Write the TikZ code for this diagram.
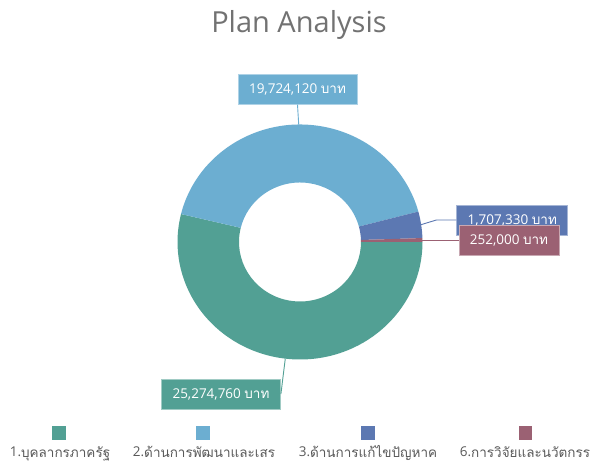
\documentclass[tikz,border=0pt]{standalone}
\usepackage{fontspec}
\setmainfont{Open Sans}
\newfontfamily\thaifont[Script=Thai]{Loma}
\usetikzlibrary{calc}
\definecolor{cgreen}{RGB}{82,160,148}
\definecolor{clblue}{RGB}{108,174,209}
\definecolor{cdblue}{RGB}{92,120,178}
\definecolor{cred}{RGB}{155,97,115}
\definecolor{ctext}{RGB}{89,89,89}
\newcommand\mkslice[3]{%
  \fill[#1] ($(c)+(#2:122.5pt and 117.5pt)$)
    arc[start angle=#2, end angle=#3, x radius=122.5pt, y radius=117.5pt]
    -- ($(c)+(#3:61pt and 59.5pt)$)
    arc[start angle=#3, end angle=#2, x radius=61pt, y radius=59.5pt] -- cycle;}
\begin{document}
\begin{tikzpicture}[x=1pt,y=1pt,
  valbox/.style={draw=white!45!#1, fill=#1, line width=0.8pt, text=white,
    minimum height=30pt, inner sep=0pt, font=\fontsize{13.5}{16}\selectfont},
  leader/.style={draw=#1, line width=0.9pt},
  legsq/.style={fill=#1, minimum size=13.5pt, inner sep=0pt},
  legtxt/.style={text=ctext, font=\fontsize{13.5}{15}\selectfont, inner sep=0pt, anchor=base}]
\useasboundingbox (0,0) rectangle (590,464);
\fill[white] (0,0) rectangle (590,464);
\coordinate (c) at (300,222);
\node[text=ctext!85, font=\fontsize{29}{34}\selectfont, anchor=base, inner sep=0pt] (title) at (299,431) {Plan Analysis};
% slices
\mkslice{cgreen}{0}{-193.77}
\mkslice{clblue}{166.23}{15.02}
\mkslice{cdblue}{15.02}{1.93}
\mkslice{cred}{1.93}{0}
% ring points for leaders
\coordinate (plb) at ($(c)+(90.6:122.5pt and 117.5pt)$);
\coordinate (pgr) at ($(c)+(-96.9:122.5pt and 117.5pt)$);
\coordinate (pdb) at ($(c)+(8.5:122.5pt and 117.5pt)$);
\coordinate (prd) at ($(c)+(0.97:122.5pt and 117.5pt)$);
% labels
\node[valbox=clblue, minimum width=119pt] (lbl) at (297.5,374.7) {19,724,120 {\thaifont บาท}};
\node[valbox=cgreen, minimum width=119pt] (grl) at (221,70) {25,274,760 {\thaifont บาท}};
\node[valbox=cdblue, minimum width=111pt] (dbl) at (512.3,244) {1,707,330 {\thaifont บาท}};
\node[valbox=cred, minimum width=100pt] (rdl) at (509,224) {252,000 {\thaifont บาท}};
% leaders
\draw[leader=clblue] (plb) -- (lbl.south);
\draw[leader=cgreen] (pgr) -- (grl.east);
\draw[leader=cdblue] (pdb) -- ($(dbl.west)+(-20,0)$) -- (dbl.west);
\draw[leader=cred] (prd) -- (prd -| rdl.west);
% legend
\node[legsq=cgreen] (sq1) at (59,31) {};
\node[legsq=clblue] (sq2) at (203,31) {};
\node[legsq=cdblue] (sq3) at (368,31) {};
\node[legsq=cred] (sq4) at (525.5,31) {};
\node[legtxt] (lg1) at (60,7) {1.{\thaifont บุคลากรภาครัฐ}};
\node[legtxt] (lg2) at (204,7) {2.{\thaifont ด้านการพัฒนาและเสร}};
\node[legtxt] (lg3) at (368,7) {3.{\thaifont ด้านการแก้ไขปัญหาค}};
\node[legtxt] (lg4) at (525,7) {6.{\thaifont การวิจัยและนวัตกรร}};
\end{tikzpicture}
\end{document}
